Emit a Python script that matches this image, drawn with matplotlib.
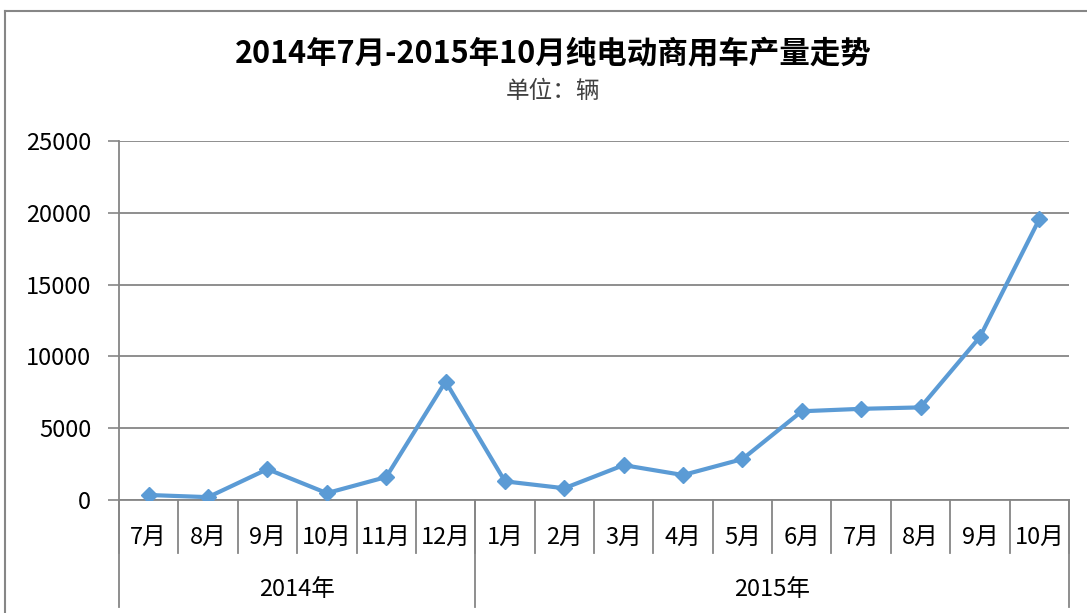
import matplotlib
matplotlib.use('Agg')
import matplotlib.pyplot as plt
from matplotlib.lines import Line2D
import matplotlib.transforms as mtransforms


plt.rcParams['font.family'] = ['Noto Sans CJK SC', 'DejaVu Sans']

TITLE = '2014年7月-2015年10月纯电动商用车产量走势'
SUBTITLE = '单位：辆'
MONTHS = ['7月', '8月', '9月', '10月', '11月', '12月',
          '1月', '2月', '3月', '4月', '5月', '6月', '7月', '8月', '9月', '10月']
YEARS = ['2014年', '2015年']
YEAR_COUNTS = [6, 10]
OUTPUT = [350, 200, 2150, 480, 1600, 8250,
          1300, 820, 2430, 1740, 2850, 6180, 6350, 6450, 11350, 19550]
Y_TICKS = [0, 5000, 10000, 15000, 20000, 25000]

GRAY = '#868686'
BLUE = '#5B9BD5'
LABEL_SIZE = 17

fig = plt.figure(figsize=(10.87, 6.13), dpi=100)
ax = fig.add_axes([0.1095, 0.1843, 0.8739, 0.5857])

x = list(range(len(MONTHS)))
ax.plot(x, OUTPUT, color=BLUE, linewidth=3, marker='D', markersize=8,
        markeredgecolor=BLUE, zorder=3)

ax.set_xlim(-0.5, len(MONTHS) - 0.5)
ax.set_ylim(0, 25000)
ax.set_yticks(Y_TICKS)
ax.set_yticklabels([str(v) for v in Y_TICKS], fontsize=LABEL_SIZE)
ax.tick_params(axis='y', length=8, width=1.2, color=GRAY, pad=12)
ax.set_xticks([])
ax.grid(axis='y', color=GRAY, linewidth=1.3)
ax.set_axisbelow(True)

for side in ['top', 'right']:
    ax.spines[side].set_visible(False)
ax.spines['left'].set_color(GRAY)
ax.spines['left'].set_linewidth(1.3)
ax.spines['bottom'].set_color(GRAY)
ax.spines['bottom'].set_linewidth(1.3)

# two-level category axis
trans = mtransforms.blended_transform_factory(ax.transData, ax.transAxes)
for i in range(len(MONTHS) + 1):
    ax.add_line(Line2D([i - 0.5, i - 0.5], [0, -0.148], transform=trans,
                       color=GRAY, linewidth=1.3, clip_on=False))
for i, m in enumerate(MONTHS):
    ax.text(i, -0.103, m, transform=trans, ha='center', va='center', fontsize=LABEL_SIZE)

start = 0
bounds = [0]
for name, n in zip(YEARS, YEAR_COUNTS):
    ax.text(start + n / 2 - 0.5, -0.25, name, transform=trans,
            ha='center', va='center', fontsize=LABEL_SIZE)
    start += n
    bounds.append(start)
for b in bounds:
    ax.add_line(Line2D([b - 0.5, b - 0.5], [0, -0.298], transform=trans,
                       color=GRAY, linewidth=1.3, clip_on=False))

fig.text(0.509, 0.912, TITLE, ha='center', va='center', fontsize=22, fontweight='bold')
fig.text(0.509, 0.85, SUBTITLE, ha='center', va='center', fontsize=17, color='#404040')

# chart frame (top and left edges visible)
fig.add_artist(Line2D([0.005, 1.0], [0.982, 0.982], transform=fig.transFigure,
                      color=GRAY, linewidth=1.5))
fig.add_artist(Line2D([0.005, 0.005], [0.0, 0.982], transform=fig.transFigure,
                      color=GRAY, linewidth=1.5))

fig.savefig('out.png', dpi=100)
